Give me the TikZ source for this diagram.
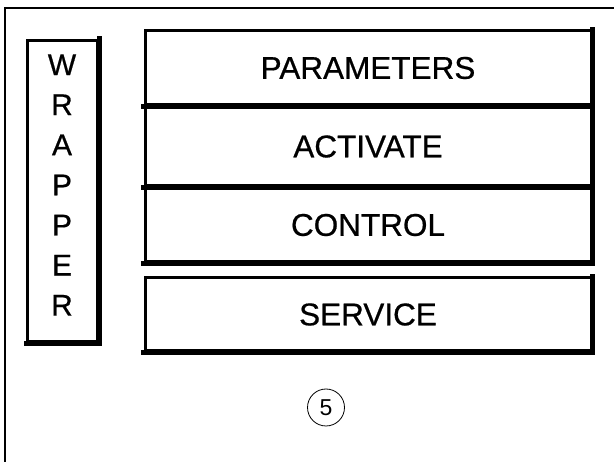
\documentclass[tikz,border=0pt]{standalone}
\usepackage{fontspec}
\setmainfont{Liberation Sans}
\newfontfamily\heavyfont[FakeBold=0.6]{Liberation Sans}
\begin{document}
\begin{tikzpicture}[x=1pt,y=-1pt,
  blk/.style={draw=black,line width=3pt,rectangle,inner sep=0pt,font=\heavyfont\fontsize{31.5}{36}\selectfont},
  shadowline/.style={line width=5pt,line cap=rect},
  frameline/.style={line width=2pt}]
\useasboundingbox (0,0) rectangle (614,462);
\fill[white] (0,0) rectangle (614,462);
% frame
\coordinate (fbl) at (5,462);
\coordinate (ftl) at (5,8);
\coordinate (ftr) at (614,8);
\draw[frameline] (fbl) -- (ftl) -- (ftr);
% boxes
\node[blk,minimum width=446pt,minimum height=74pt] (par) at (368,68) {PARAMETERS};
\node[blk,minimum width=446pt,minimum height=79pt] (act) at (368,146.5) {ACTIVATE};
\node[blk,minimum width=446pt,minimum height=74pt] (con) at (368,225) {CONTROL};
\node[blk,minimum width=446pt,minimum height=73pt] (ser) at (368,314.5) {SERVICE};
\node[blk,minimum width=70pt,minimum height=301.5pt] (wra) at (62.5,191.25) {};
\foreach \b in {par,act,con,ser,wra}{
  \draw[shadowline] (\b.north east) -- (\b.south east) -- (\b.south west);
}
\node[font=\heavyfont\fontsize{30}{40.1}\selectfont,align=center,inner sep=0pt] (wtxt) at (62,185) {W\\R\\A\\P\\P\\E\\R};
% number
\node[draw=black,circle,line width=0.8pt,minimum size=37pt,inner sep=0pt,font=\fontsize{23}{26}\selectfont] (num) at (326,407.5) {5};
\end{tikzpicture}
\end{document}
